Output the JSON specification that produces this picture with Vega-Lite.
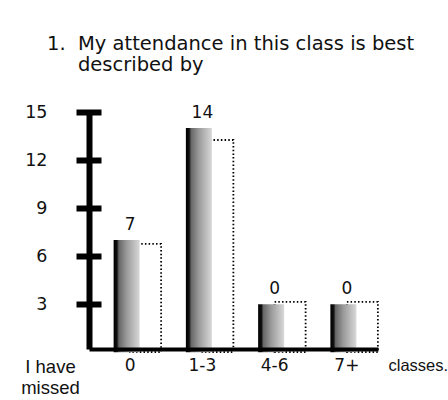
{
  "$schema": "https://vega.github.io/schema/vega-lite/v6.json",
  "width": 289,
  "height": 237,
  "autosize": {"type": "none"},
  "padding": {"left": 89, "top": 112, "right": 70, "bottom": 51},
  "background": "white",
  "config": {"view": {"stroke": null}},
  "title": {
    "text": ["1.\u00a0\u00a0My attendance in this class is best", "\u200b\u00a0\u00a0\u00a0\u00a0\u00a0described by"],
    "anchor": "start",
    "frame": "group",
    "dx": -42,
    "offset": 28,
    "font": "DejaVu Sans",
    "fontSize": 19.5,
    "fontWeight": "normal",
    "color": "#111",
    "lineHeight": 21
  },
  "data": {
    "values": [
      {"missed": "0", "count": 7, "bar": 7, "shadow": 6.76},
      {"missed": "1-3", "count": 14, "bar": 14, "shadow": 13.25},
      {"missed": "4-6", "count": 0, "bar": 3, "shadow": 3.14},
      {"missed": "7+", "count": 0, "bar": 3, "shadow": 3.14}
    ]
  },
  "encoding": {
    "x": {
      "field": "missed",
      "type": "nominal",
      "sort": null,
      "scale": {"paddingInner": 0, "paddingOuter": 0},
      "axis": {
        "title": "classes.",
        "titleFont": "Liberation Sans",
        "titleFontSize": 16.5,
        "titleFontWeight": "normal",
        "titleColor": "#111",
        "titleAlign": "left",
        "titleBaseline": "alphabetic",
        "titleAnchor": "start",
        "titleX": 299,
        "titleY": 21,
        "labelAngle": 0,
        "labelFont": "DejaVu Sans",
        "labelFontSize": 17,
        "labelColor": "#111",
        "labelBaseline": "alphabetic",
        "labelPadding": 21,
        "labelOffset": 5,
        "ticks": false,
        "domainColor": "black",
        "domainWidth": 4,
        "zindex": 1
      }
    }
  },
  "layer": [
    {
      "mark": {
        "type": "bar",
        "width": 31,
        "xOffset": 20.5,
        "fill": "white",
        "stroke": "black",
        "strokeWidth": 1.8,
        "strokeDash": [1.5, 2.2]
      },
      "encoding": {
        "y": {
          "field": "shadow",
          "type": "quantitative",
          "scale": {"domain": [0.2, 15], "nice": false, "zero": false},
          "axis": {
            "orient": "left",
            "title": ["I have", "missed"],
            "titleFont": "Liberation Sans",
            "titleFontSize": 18.5,
            "titleFontWeight": "normal",
            "titleColor": "#111",
            "titleAngle": 0,
            "titleAlign": "center",
            "titleBaseline": "alphabetic",
            "titleLineHeight": 21.5,
            "titleX": -39,
            "titleY": 260,
            "labels": false,
            "ticks": false,
            "grid": false,
            "domainColor": "black",
            "domainWidth": 6,
            "zindex": 1
          }
        }
      }
    },
    {
      "mark": {
        "type": "bar",
        "width": 26,
        "xOffset": 1.5,
        "fill": {
          "gradient": "linear",
          "x1": 0, "y1": 0, "x2": 1, "y2": 0,
          "stops": [
            {"offset": 0, "color": "#000000"},
            {"offset": 0.13, "color": "#111111"},
            {"offset": 0.2, "color": "#666666"},
            {"offset": 0.5, "color": "#9a9a9a"},
            {"offset": 1, "color": "#d8d8d8"}
          ]
        }
      },
      "encoding": {
        "y": {
          "field": "bar",
          "type": "quantitative",
          "scale": {"domain": [0.2, 15], "nice": false, "zero": false},
          "axis": {
            "orient": "left",
            "title": null,
            "values": [3, 6, 9, 12, 15],
            "offset": -12,
            "domain": false,
            "grid": false,
            "tickSize": 25,
            "tickWidth": 6,
            "tickColor": "black",
            "labelFont": "DejaVu Sans",
            "labelFontSize": 17.5,
            "labelColor": "#111",
            "labelPadding": 29,
            "zindex": 1
          }
        }
      }
    },
    {
      "mark": {
        "type": "text",
        "font": "DejaVu Sans",
        "fontSize": 17,
        "color": "#111",
        "baseline": "alphabetic",
        "dy": -10,
        "xOffset": 5
      },
      "encoding": {
        "y": {
          "field": "bar",
          "type": "quantitative",
          "scale": {"domain": [0.2, 15], "nice": false, "zero": false},
          "axis": null
        },
        "text": {"field": "count", "type": "quantitative"}
      }
    }
  ],
  "resolve": {"axis": {"y": "independent"}}
}
